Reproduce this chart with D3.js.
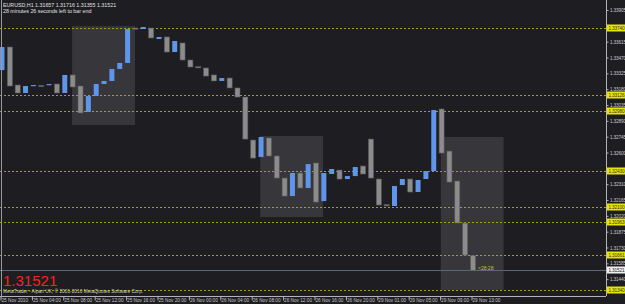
<!DOCTYPE html>
<html>
<head>
<meta charset="utf-8">
<title>EURUSD,H1</title>
<style>
    body { margin: 0; background: #1e1d22; }
    svg { display: block; font-family: "Liberation Sans", Arial, sans-serif; }
    .axis text { fill: #c8c8c8; font-size: 4.7px; }
    .axis line, .axis path { stroke: #b4b4b4; }
    .yax text { letter-spacing: -0.15px; }
</style>
<script src="https://cdn.jsdelivr.net/npm/d3@7"></script>
</head>
<body>
<div id="chart"></div>
<script>
var width = 625, height = 304;
var plotRight = 606, plotBottom = 296;

// bar open / close (EURUSD H1, 25 Nov 00:00 .. 29 Nov 13:00)
var opens = [1.33355, 1.33566, 1.33218, 1.33145, 1.33209, 1.33214, 1.33218, 1.33227, 1.33145, 1.33310,
    1.33209, 1.32971, 1.33117, 1.33227, 1.33255, 1.33365, 1.33420, 1.33740, 1.33731, 1.33740,
    1.33639, 1.33658, 1.33520, 1.33603, 1.33447, 1.33386, 1.33374, 1.33310, 1.33255, 1.33282,
    1.33191, 1.33108, 1.32714, 1.32559, 1.32733, 1.32568, 1.32366, 1.32201, 1.32412, 1.32275,
    1.32504, 1.32155, 1.32403, 1.32439, 1.32357, 1.32384, 1.32476, 1.32723, 1.32357, 1.32122,
    1.32110, 1.32302, 1.32357, 1.32238, 1.32357, 1.32430, 1.32998, 1.32613, 1.32339, 1.31954,
    1.31657];
var closes = [1.33566, 1.33209, 1.33145, 1.33209, 1.33218, 1.33205, 1.33227, 1.33145, 1.33310, 1.33200,
    1.32962, 1.33117, 1.33227, 1.33255, 1.33365, 1.33420, 1.33731, 1.33731, 1.33749, 1.33649,
    1.33658, 1.33520, 1.33621, 1.33447, 1.33383, 1.33380, 1.33300, 1.33255, 1.33282, 1.33191,
    1.33108, 1.32723, 1.32549, 1.32742, 1.32568, 1.32366, 1.32201, 1.32412, 1.32275, 1.32494,
    1.32146, 1.32412, 1.32449, 1.32357, 1.32384, 1.32467, 1.32403, 1.32366, 1.32119, 1.32116,
    1.32293, 1.32357, 1.32238, 1.32348, 1.32430, 1.32989, 1.32595, 1.32329, 1.31954, 1.31661,
    1.31521];

var timeTickBars = [0, 4, 8, 12, 16, 20, 24, 28, 32, 36, 40, 44, 48, 52, 56, 60];
var timeTickLabels = ['25 Nov 2010', '25 Nov 04:00', '25 Nov 08:00', '25 Nov 12:00', '25 Nov 16:00',
    '25 Nov 20:00', '26 Nov 00:00', '26 Nov 04:00', '26 Nov 08:00', '26 Nov 12:00', '26 Nov 16:00',
    '26 Nov 20:00', '29 Nov 01:00', '29 Nov 05:00', '29 Nov 09:00', '29 Nov 13:00'];

var priceTicks = [1.33905, 1.33760, 1.33615, 1.33470, 1.33325, 1.33180, 1.33035, 1.32890, 1.32745,
    1.32600, 1.32455, 1.32310, 1.32165, 1.32020, 1.31875, 1.31730, 1.31585, 1.31440, 1.31295];

// horizontal levels (dotted yellow)
var levels = [1.33740, 1.33126, 1.32980, 1.32430, 1.32100, 1.31963, 1.31661, 1.31340];

// session boxes: bar index from/to, price top/bottom
var boxFrom = [8.92, 32.9, 55.9];
var boxTo = [16.94, 40.9, 63.9];
var boxTop = [1.33758, 1.32751, 1.32742];
var boxBottom = [1.32852, 1.32009, 1.31340];

var bid = 1.31521;
var headerLine1 = 'EURUSD,H1  1.31657 1.31716 1.31355 1.31521';
var headerLine2 = '28 minutes 26 seconds left to bar end';
var countdown = '<28:28';
var copyright = 'MetaTrader - Alpari UK, \u00a9 2001-2010 MetaQuotes Software Corp.';

var svg = d3.select('#chart').append('svg')
    .attr('width', width)
    .attr('height', height);

svg.append('rect')
    .attr('width', width).attr('height', height)
    .attr('fill', '#1e1d22');

var xScale = d3.scaleLinear().domain([0, 60]).range([2, 473]);
var yScale = d3.scaleLinear().domain([1.31295, 1.33905]).range([295, 10]);
var fmt = d3.format('.5f');

// boxes
svg.selectAll('.box')
    .data(boxFrom)
    .enter().append('rect')
    .attr('class', 'box')
    .attr('x', function(d) { return xScale(d); })
    .attr('width', function(d, i) { return xScale(boxTo[i]) - xScale(d); })
    .attr('y', function(d, i) { return yScale(boxTop[i]); })
    .attr('height', function(d, i) { return yScale(boxBottom[i]) - yScale(boxTop[i]); })
    .attr('fill', '#37363a');

// dotted levels
svg.selectAll('.level')
    .data(levels)
    .enter().append('line')
    .attr('class', 'level')
    .attr('x1', 0).attr('x2', plotRight)
    .attr('y1', function(d) { return Math.round(yScale(d)) + 0.5; })
    .attr('y2', function(d) { return Math.round(yScale(d)) + 0.5; })
    .attr('stroke', '#a3a30a')
    .attr('stroke-dasharray', '2,2');

// bid line
svg.append('line')
    .attr('x1', 0).attr('x2', plotRight)
    .attr('y1', Math.round(yScale(bid)) + 0.5)
    .attr('y2', Math.round(yScale(bid)) + 0.5)
    .attr('stroke', '#5c6778');

// candles (bodies only)
svg.selectAll('.bar')
    .data(opens)
    .enter().append('rect')
    .attr('class', 'bar')
    .attr('x', function(d, i) { return xScale(i) - 2.5; })
    .attr('width', 5)
    .attr('y', function(d, i) { return yScale(Math.max(d, closes[i])); })
    .attr('height', function(d, i) { return Math.max(1.2, Math.abs(yScale(d) - yScale(closes[i]))); })
    .attr('fill', function(d, i) { return closes[i] > d ? '#5f95ea' : '#8c8c8c'; })
    .attr('stroke', function(d, i) { return closes[i] > d ? 'none' : '#5a5a5a'; })
    .attr('stroke-width', 0.6);

// frame
svg.append('line').attr('x1', 1.5).attr('x2', 1.5).attr('y1', 0).attr('y2', plotBottom)
    .attr('stroke', '#9a9a9a');

// axes
var xAxis = d3.axisBottom(xScale)
    .tickValues(timeTickBars)
    .tickSize(4)
    .tickFormat(function(d, i) { return timeTickLabels[i]; });
var xAxisG = svg.append('g')
    .attr('class', 'axis')
    .attr('transform', 'translate(0,' + (plotBottom + 0.5) + ')')
    .call(xAxis);
xAxisG.select('.domain').attr('d', 'M0,0H' + plotRight);
xAxisG.selectAll('.tick line').attr('transform', 'translate(-1.5,0)');
xAxisG.selectAll('.tick text')
    .attr('text-anchor', 'start')
    .attr('x', -1)
    .attr('y', 2.5);

var shown = priceTicks.filter(function(p) {
    return !levels.some(function(l) { return Math.abs(yScale(l) - yScale(p)) < 5; }) &&
        Math.abs(yScale(bid) - yScale(p)) >= 5;
});
var yAxis = d3.axisRight(yScale)
    .tickValues(shown)
    .tickSize(2)
    .tickPadding(1.5)
    .tickFormat(fmt);
var yAxisG = svg.append('g')
    .attr('class', 'axis yax')
    .attr('transform', 'translate(' + (plotRight + 0.5) + ',0)')
    .call(yAxis);
yAxisG.select('.domain').attr('d', 'M0,0V' + plotBottom);

// highlighted level labels
var lab = svg.selectAll('.lvlLabel')
    .data(levels)
    .enter().append('g')
    .attr('class', 'lvlLabel')
    .attr('transform', function(d) { return 'translate(' + (plotRight + 1) + ',' + Math.round(yScale(d)) + ')'; });
lab.append('rect')
    .attr('x', 0).attr('y', -3.5).attr('width', 18).attr('height', 7)
    .attr('fill', '#e6e600');
lab.append('text')
    .attr('x', 1.5).attr('y', 1.8)
    .attr('font-size', '4.7px')
    .attr('letter-spacing', '-0.15px')
    .attr('fill', '#333')
    .text(function(d) { return fmt(d); });

// bid label
var bidG = svg.append('g')
    .attr('transform', 'translate(' + (plotRight + 1) + ',' + Math.round(yScale(bid)) + ')');
bidG.append('rect')
    .attr('x', 0).attr('y', -3.5).attr('width', 18).attr('height', 7)
    .attr('fill', '#f0f0f0');
bidG.append('text')
    .attr('x', 1.5).attr('y', 1.8)
    .attr('font-size', '4.7px')
    .attr('letter-spacing', '-0.15px')
    .attr('fill', '#222')
    .text(fmt(bid));

// texts
svg.append('text').attr('x', 3).attr('y', 7)
    .attr('font-size', '5.3px').attr('fill', '#e0e0e0')
    .text(headerLine1);
svg.append('text').attr('x', 3).attr('y', 13)
    .attr('font-size', '5.3px').attr('fill', '#e0e0e0')
    .text(headerLine2);

svg.append('text')
    .attr('x', xScale(60) + 5).attr('y', yScale(bid) - 0.5)
    .attr('font-size', '5px').attr('fill', '#c8c810')
    .text(countdown);

svg.append('text').attr('x', 3).attr('y', 286)
    .attr('font-size', '15px').attr('fill', '#ff2020')
    .text(fmt(bid));

svg.append('text').attr('x', 3).attr('y', 293)
    .attr('font-size', '4.8px').attr('fill', '#cfcfcf')
    .text(copyright);
</script>
</body>
</html>
